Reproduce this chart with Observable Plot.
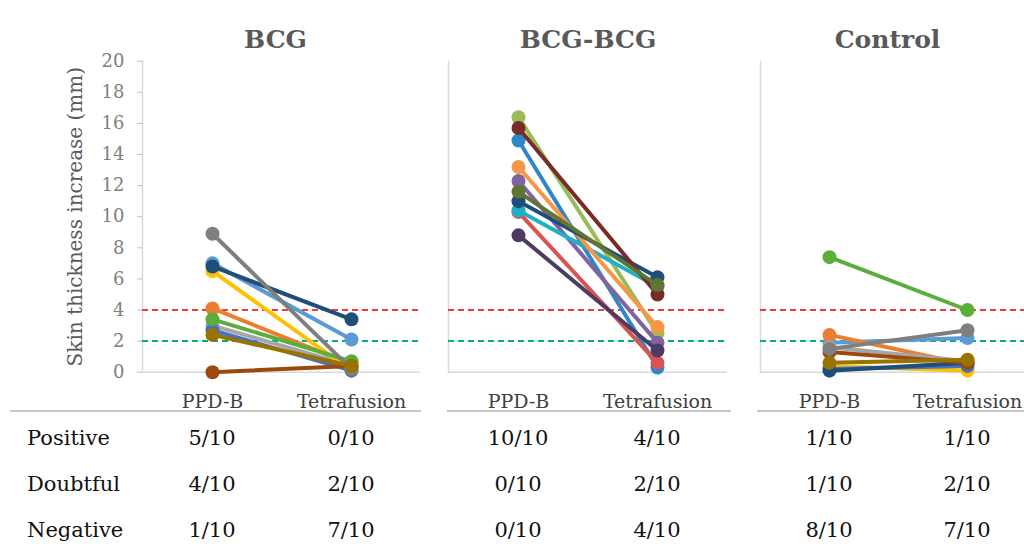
<!DOCTYPE html>
<html>
<head>
<meta charset="utf-8">
<script src="https://cdn.jsdelivr.net/npm/d3@7"></script>
<script src="https://cdn.jsdelivr.net/npm/@observablehq/plot@0.6"></script>
<style>
html, body { margin: 0; padding: 0; background: #fff; width: 1024px; height: 548px; overflow: hidden; }
#root { position: relative; width: 1024px; height: 548px; font-family: "DejaVu Serif", serif; }
.panel { position: absolute; top: 0; }
.sep { position: absolute; top: 410px; height: 0; border-top: 2px solid #c8c8c8; }
.cell { position: absolute; font-size: 21px; color: #111; transform: translate(-50%, -50%); white-space: nowrap; }
.rowlab { position: absolute; font-size: 21px; color: #111; transform: translate(0, -50%); white-space: nowrap; }
</style>
</head>
<body>
<div id="root"></div>
<script>
// ---- data ----
const groups = ["BCG", "BCG-BCG", "Control"];
const tests = ["PPD-B", "Tetrafusion"];
const yTicks = [0, 2, 4, 6, 8, 10, 12, 14, 16, 18, 20];
const positiveCut = 4;
const doubtfulCut = 2;

// BCG group (10 animals)
const bcgPPD   = [7.0, 4.1, 3.0, 6.5, 2.7, 3.4, 6.8, 0.0, 8.9, 2.4];
const bcgTetra = [2.1, 0.5, 0.4, 0.1, 0.1, 0.7, 3.4, 0.4, 0.2, 0.4];
// BCG-BCG group
const bbPPD    = [14.9, 10.3, 16.4, 12.3, 10.4, 13.2, 11.0, 15.7, 11.6, 8.8];
const bbTetra  = [0.3, 0.6, 2.5, 1.9, 5.5, 2.9, 6.1, 5.0, 5.6, 1.4];
// Control group
const ctlPPD   = [1.9, 2.4, 1.6, 0.4, 0.2, 7.4, 0.1, 1.3, 1.5, 0.6];
const ctlTetra = [2.2, 0.5, 0.7, 0.1, 0.4, 4.0, 0.6, 0.6, 2.7, 0.8];

// table
const rowLabels = ["Positive", "Doubtful", "Negative"];
const tableBCG     = [["5/10", "0/10"], ["4/10", "2/10"], ["1/10", "7/10"]];
const tableBCGBCG  = [["10/10", "4/10"], ["0/10", "2/10"], ["0/10", "4/10"]];
const tableControl = [["1/10", "1/10"], ["1/10", "2/10"], ["8/10", "7/10"]];

// palettes
const palette13 = ["#5B9BD5", "#ED7D31", "#A5A5A5", "#FFC000", "#4472C4", "#5BAE3C", "#1F4E79", "#9E480E", "#7F7F7F", "#997300"];
const palette07 = ["#2F86C8", "#D9534F", "#9BBB59", "#8064A2", "#1FB0C8", "#F79646", "#1F4E79", "#772C2A", "#5F7530", "#4D3B62"];

// ---- drawing ----
const root = document.getElementById("root");
const H = 420, MT = 60.7, MB = 48.3;

function tidy(ppd, tetra) {
  const out = [];
  ppd.forEach((v, i) => {
    out.push({id: i, test: tests[0], v});
    out.push({id: i, test: tests[1], v: tetra[i]});
  });
  return out;
}

function panel({name, ppd, tetra, colors, left, marginLeft, plotWidth, marginRight, titleDx, showY}) {
  const data = tidy(ppd, tetra);
  const marks = [
    Plot.ruleY([0], {stroke: "#d9d9d9", strokeWidth: 1.5}),
    Plot.frame({anchor: "left", stroke: "#d9d9d9", strokeWidth: 1.5}),
    Plot.ruleY([positiveCut], {stroke: "#F03C3C", strokeWidth: 2, strokeDasharray: "6,4"}),
    Plot.ruleY([doubtfulCut], {stroke: "#00B07A", strokeWidth: 2, strokeDasharray: "6,4"}),
    Plot.axisX({tickSize: 0, tickPadding: 22, fontSize: 19, fill: "#404040", label: null}),
    Plot.text([name], {frameAnchor: "top", dy: -31, dx: titleDx, fontSize: 25, fontWeight: "bold", fill: "#595959"})
  ];
  if (showY) {
    marks.push(Plot.axisY({ticks: yTicks, tickSize: 5, tickPadding: 13, fontSize: 18, stroke: "#bfbfbf", fill: "#7f7f7f", label: null}));
    marks.push(Plot.text(["Skin thickness increase (mm)"], {frameAnchor: "left", textAnchor: "middle", rotate: -90, dx: -67, fontSize: 20, fill: "#595959"}));
  }
  d3.range(ppd.length).forEach(i => {
    const s = data.filter(d => d.id === i);
    marks.push(Plot.line(s, {x: "test", y: "v", stroke: "id", strokeWidth: 4}));
    marks.push(Plot.dot(s, {x: "test", y: "v", fill: "id", r: 7}));
  });
  const p = Plot.plot({
    width: marginLeft + plotWidth + marginRight,
    height: H,
    marginTop: MT, marginBottom: MB, marginLeft, marginRight,
    style: {fontFamily: "DejaVu Serif", overflow: "visible", maxWidth: "none", background: "transparent"},
    x: {type: "point", domain: tests, padding: 0.5, axis: null},
    y: {domain: [0, 20], axis: null},
    color: {type: "ordinal", domain: d3.range(10), range: colors},
    marks
  });
  const wrap = document.createElement("div");
  wrap.className = "panel";
  wrap.style.left = left + "px";
  wrap.appendChild(p);
  root.appendChild(wrap);
  const xs = p.scale("x");
  return tests.map(t => left + xs.apply(t));
}

const c1 = panel({name: groups[0], ppd: bcgPPD, tetra: bcgTetra, colors: palette13, left: 0, marginLeft: 142, plotWidth: 278, marginRight: 10, titleDx: -6, showY: true});
const c2 = panel({name: groups[1], ppd: bbPPD, tetra: bbTetra, colors: palette07, left: 438, marginLeft: 10, plotWidth: 279, marginRight: 10, titleDx: 0, showY: false});
const c3 = panel({name: groups[2], ppd: ctlPPD, tetra: ctlTetra, colors: palette13, left: 750, marginLeft: 10, plotWidth: 276, marginRight: 0, titleDx: -11, showY: false});

// separators
[[10, 421], [447, 731], [757, 1024]].forEach(([a, b]) => {
  const d = document.createElement("div");
  d.className = "sep";
  d.style.left = a + "px";
  d.style.width = (b - a) + "px";
  root.appendChild(d);
});

// table
const rowY = [438, 484, 530];
const cols = [[c1, tableBCG], [c2, tableBCGBCG], [c3, tableControl]];
rowLabels.forEach((lab, r) => {
  const l = document.createElement("div");
  l.className = "rowlab";
  l.style.left = "27px";
  l.style.top = rowY[r] + "px";
  l.textContent = lab;
  root.appendChild(l);
  cols.forEach(([xs, tbl]) => {
    tbl[r].forEach((val, c) => {
      const e = document.createElement("div");
      e.className = "cell";
      e.style.left = xs[c] + "px";
      e.style.top = rowY[r] + "px";
      e.textContent = val;
      root.appendChild(e);
    });
  });
});
</script>
</body>
</html>
